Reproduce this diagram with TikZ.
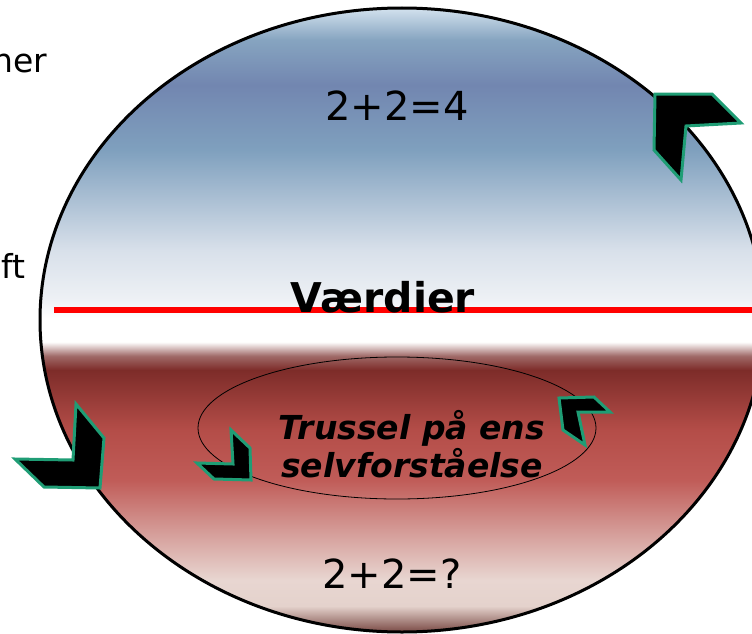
\documentclass[tikz,border=0pt]{standalone}
\usepackage{fontspec}
\setmainfont{DejaVu Sans}

\definecolor{arrowgreen}{RGB}{31,157,117}
\definecolor{blueA}{RGB}{211,226,238}
\definecolor{blueB}{RGB}{134,164,192}
\definecolor{blueC}{RGB}{114,134,176}
\definecolor{blueD}{RGB}{127,160,190}
\definecolor{blueE}{RGB}{216,224,234}
\definecolor{blueF}{RGB}{238,241,245}
\definecolor{redA}{RGB}{160,106,104}
\definecolor{redB}{RGB}{125,44,41}
\definecolor{redC}{RGB}{180,77,72}
\definecolor{redD}{RGB}{192,92,88}
\definecolor{redE}{RGB}{212,154,150}
\definecolor{redF}{RGB}{232,214,209}
\definecolor{redG}{RGB}{228,210,204}
\definecolor{redH}{RGB}{122,74,69}

% blaa himmel over, roed bund under
\pgfdeclareverticalshading{ballshade}{100bp}{%
  color(0bp)=(redH); color(25bp)=(redH); color(27.08bp)=(redG);
  color(29.17bp)=(redF); color(33.17bp)=(redE); color(37.18bp)=(redD);
  color(41.19bp)=(redC); color(45.99bp)=(redB); color(47.12bp)=(redA);
  color(48.24bp)=(white); color(50.16bp)=(white); color(51.6bp)=(blueF);
  color(55.61bp)=(blueE); color(63.62bp)=(blueD); color(68.83bp)=(blueC);
  color(72.44bp)=(blueB); color(75bp)=(blueA); color(100bp)=(blueA)}

\tikzset{
  chevron/.style={fill=black, draw=arrowgreen, line width=3pt, line join=miter},
  bigtext/.style={font=\fontsize{40}{48}\selectfont, anchor=base},
  sidetext/.style={font=\fontsize{33}{40}\selectfont, anchor=base east}
}

\begin{document}
\begin{tikzpicture}[x=1pt,y=-1pt]

  \useasboundingbox (0,0) rectangle (752,634);
  \clip (0,0) rectangle (752,634);

  % Tekst i venstre kant
  \node[sidetext] (ner) at (51,73) {ner};
  \node[sidetext] (ft) at (29,278) {ft};

  % Kuglen
  \shade[shading=ballshade] (402,320) ellipse [x radius=362, y radius=312];
  \draw[line width=3pt] (402,320) ellipse [x radius=362, y radius=312];

  % Vaerdilinjen
  \draw[red, line width=6.5pt] (54,310) -- (760,310);
  \node[font=\fontsize{41}{48}\selectfont\bfseries, anchor=base] (values) at (383,312) {Værdier};

  \node[bigtext] (sure) at (397,120) {2+2=4};
  \node[bigtext] (unsure) at (392,588) {2+2=?};

  % Indre ellipse
  \draw[line width=0.8pt] (397,428) ellipse [x radius=199, y radius=71];
  \node[font=\fontsize{33}{38}\selectfont\bfseries\itshape, align=center]
    (threat) at (412,444) {Trussel på ens\\selvforståelse};

  % Pile
  \draw[chevron] (655,94) -- (712,94) -- (741,123) -- (686,126) -- (681,180) -- (654,150) -- cycle;
  \draw[chevron] (76,404) -- (104,438) -- (100,488) -- (44,487) -- (15,459) -- (73,460) -- cycle;
  \draw[chevron] (559,398) -- (594,397) -- (610,412) -- (578,412) -- (585,445) -- (563,430) -- cycle;
  \draw[chevron] (231,430) -- (250,448) -- (251,480) -- (214,479) -- (197,463) -- (233,464) -- cycle;

\end{tikzpicture}
\end{document}
